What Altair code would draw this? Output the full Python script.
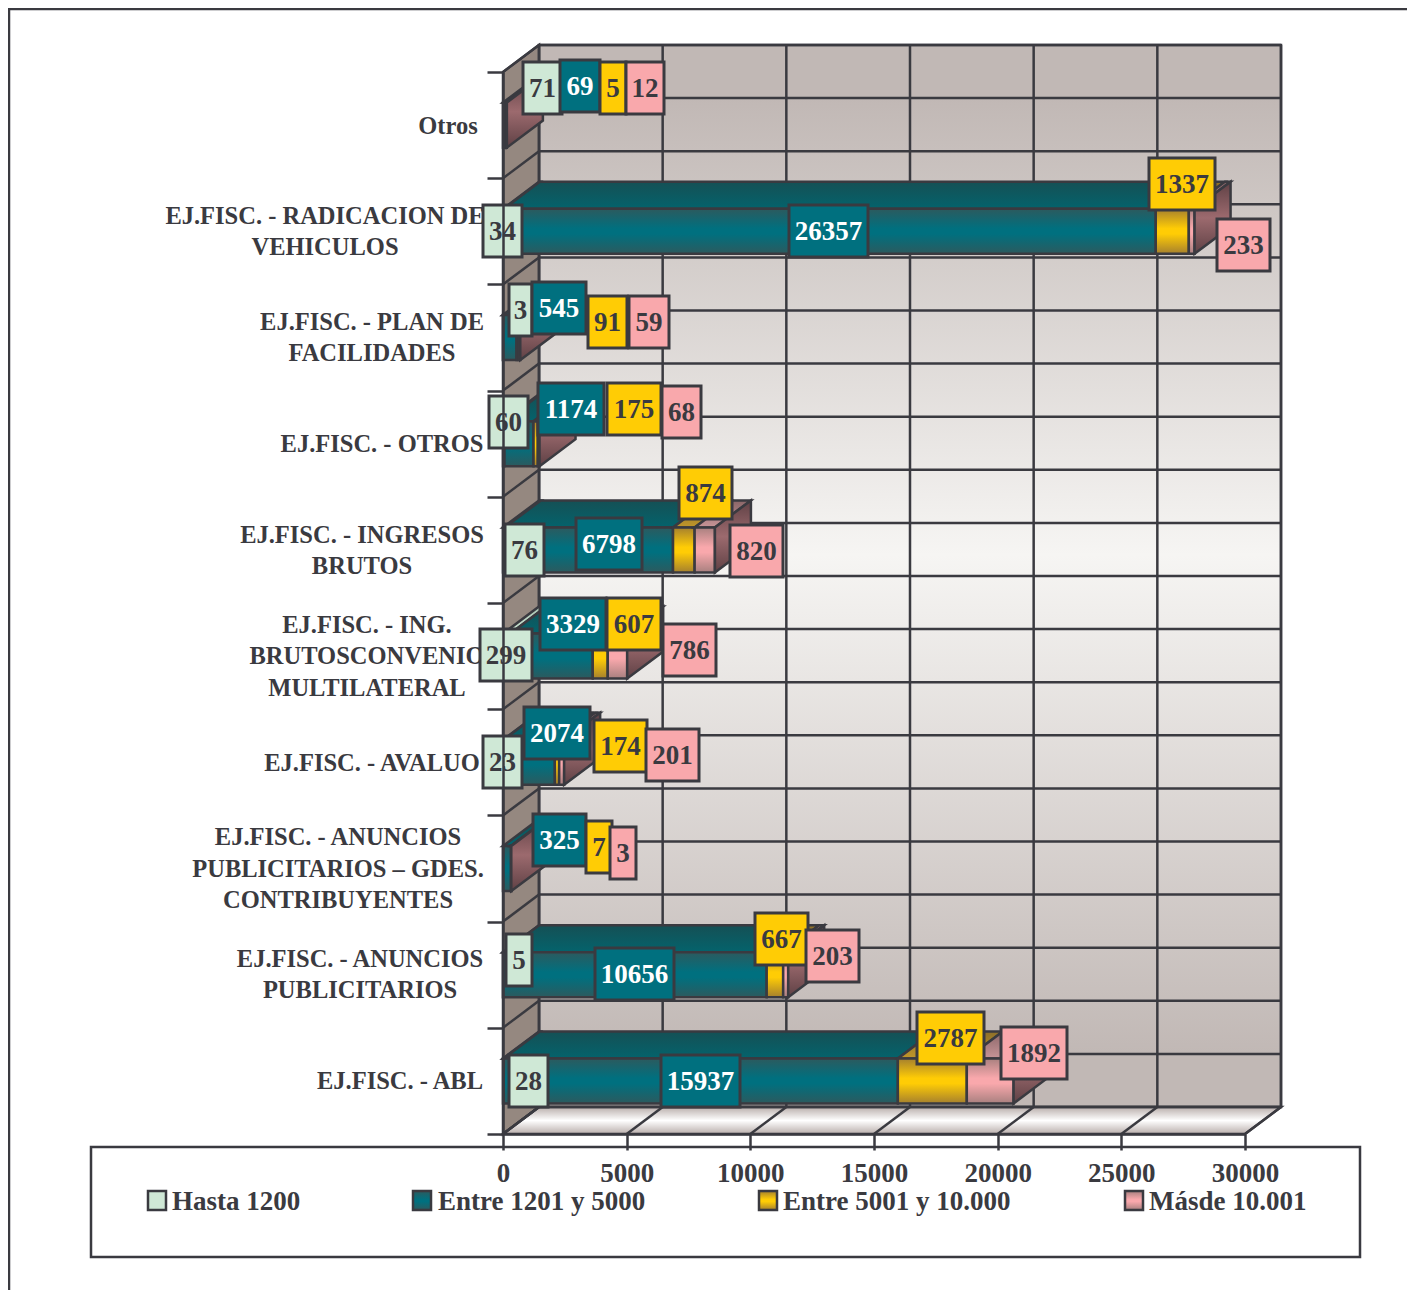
import altair as alt
import pandas as pd

# ---- chart values (bottom category first) ----
categories = ["EJ.FISC. - ABL", "EJ.FISC. - ANUNCIOS PUBLICITARIOS",
              "EJ.FISC. - ANUNCIOS PUBLICITARIOS – GDES. CONTRIBUYENTES",
              "EJ.FISC. - AVALUO", "EJ.FISC. - ING. BRUTOSCONVENIO MULTILATERAL",
              "EJ.FISC. - INGRESOS BRUTOS", "EJ.FISC. - OTROS",
              "EJ.FISC. - PLAN DE FACILIDADES", "EJ.FISC. - RADICACION DE VEHICULOS", "Otros"]
hasta = [28, 5, None, 23, 299, 76, 60, 3, 34, 71]
entre1 = [15937, 10656, 325, 2074, 3329, 6798, 1174, 545, 26357, 69]
entre5 = [2787, 667, 7, 174, 607, 874, 175, 91, 1337, 5]
mas10 = [1892, 203, 3, 201, 786, 820, 68, 59, 233, 12]
series_names = ["Hasta 1200", "Entre 1201 y 5000", "Entre 5001 y 10.000", "Másde 10.001"]
x_ticks = [0, 5000, 10000, 15000, 20000, 25000, 30000]

# ---- layout: hand-placed label boxes in page pixels (left, right, top) ----
box_h = 52
boxes_hasta = [(509, 548, 1055), (506, 532, 934), None, (483, 522, 736), (480, 532, 629),
               (505, 544, 524), (489, 528, 396), (509, 532, 284), (483, 522, 205), (523, 562, 62)]
boxes_entre1 = [(661, 740, 1055), (595, 674, 948), (533, 586, 814), (524, 590, 707), (540, 606, 598),
                (576, 642, 518), (538, 604, 383), (532, 586, 282), (789, 868, 205), (560, 600, 60)]
boxes_entre5 = [(917, 984, 1012), (755, 808, 913), (586, 612, 821), (594, 647, 720), (607, 661, 598),
                (679, 732, 467), (607, 661, 383), (588, 627, 296), (1149, 1215, 158), (600, 626, 62)]
boxes_mas10 = [(1001, 1067, 1027), (806, 859, 930), (610, 636, 827), (646, 699, 729), (663, 716, 624),
               (730, 783, 525), (662, 701, 386), (629, 669, 296), (1217, 1270, 219), (626, 664, 62)]
# category text lines: text, centre x, centre y (page pixels)
cat_lines = [("Otros", 448, 127),
             ("EJ.FISC. - RADICACION DE", 325, 217), ("VEHICULOS", 325, 248),
             ("EJ.FISC. - PLAN DE", 372, 323), ("FACILIDADES", 372, 354),
             ("EJ.FISC. - OTROS", 382, 445),
             ("EJ.FISC. - INGRESOS", 362, 536), ("BRUTOS", 362, 567),
             ("EJ.FISC. - ING.", 367, 626), ("BRUTOSCONVENIO", 367, 657), ("MULTILATERAL", 367, 689),
             ("EJ.FISC. - AVALUO", 372, 764),
             ("EJ.FISC. - ANUNCIOS", 338, 838), ("PUBLICITARIOS – GDES.", 338, 870), ("CONTRIBUYENTES", 338, 901),
             ("EJ.FISC. - ANUNCIOS", 360, 960), ("PUBLICITARIOS", 360, 991),
             ("EJ.FISC. - ABL", 400, 1082)]
legend_swatch_x = [148, 413, 759, 1125]
legend_text_x = [172, 438, 783, 1149]

# ---- geometry helpers: page pixels <-> data units ----
X0, X1, Y0, Y1 = 503, 1245, 1134, 72
dx_val = 36 / (X1 - X0) * 30000
dy_val = 27 / (Y0 - Y1) * 10
def ux(px): return (px - X0) / (X1 - X0) * 30000
def uy(py): return (Y0 - py) / (Y0 - Y1) * 10
BAR_H = 45 / (Y0 - Y1) * 10

INK = "#3a3a40"
FONT = "Liberation Serif"
LW = 2.5
xs = alt.Scale(domain=[0, 30000], range=[0, X1 - X0], nice=False, zero=False)
ys = alt.Scale(domain=[0, 10], range=[Y0 - Y1, 0], nice=False, zero=False)
XA = alt.Axis(values=x_ticks, format="d", tickSize=16, tickWidth=LW, tickColor=INK, domainColor=INK, domainWidth=LW,
              labelFont=FONT, labelFontSize=27, labelFontWeight="bold", labelColor=INK, labelPadding=10,
              labelFlush=False, labelOverlap=False, grid=False, zindex=1)
YA = alt.Axis(values=list(range(11)), labels=False, tickSize=16, tickWidth=LW, tickColor=INK, domainColor=INK,
              domainWidth=LW, grid=False, zindex=1)
NOX = dict(scale=xs, axis=XA, title=None)
NOY = dict(scale=ys, axis=YA, title=None)

def grad(stops):
    return alt.Gradient(gradient="linear", x1=0, y1=0, x2=0, y2=1,
                        stops=[alt.GradientStop(offset=o, color=c) for o, c in stops])
def band(edge, mid):
    return grad([(0, edge), (0.44, mid), (0.56, mid), (1, edge)])

front = [band("#cfe8d6", "#cfe8d6"), band("#2c5a5e", "#00707f"), band("#a5802e", "#ffcc05"), band("#a8807f", "#f9a8ac")]
top_f = [grad([(0, "#a9c4b2"), (1, "#cfe8d6")]), grad([(0, "#155055"), (1, "#04636c")]),
         grad([(0, "#8d6f2a"), (1, "#c0962a")]), grad([(0, "#8a6668"), (1, "#c79497")])]
side_f = grad([(0, "#5f4145"), (0.5, "#9c6a6e"), (1, "#5f4145")])
box_col = ["#cfe8d6", "#00707f", "#ffcc05", "#f9a8ac"]
txt_col = [INK, "#ffffff", INK, INK]
all_vals = [hasta, entre1, entre5, mas10]
all_boxes = [boxes_hasta, boxes_entre1, boxes_entre5, boxes_mas10]

def rect_layer(df, **mk):
    return alt.Chart(df).mark_rect(**mk).encode(
        x=alt.X("x:Q", **NOX), x2="x2:Q", y=alt.Y("y:Q", **NOY), y2="y2:Q")
def rule_layer(df, **mk):
    return alt.Chart(df).mark_rule(stroke=INK, strokeWidth=LW, **mk).encode(
        x=alt.X("x:Q", **NOX), x2="x2:Q", y=alt.Y("y:Q", **NOY), y2="y2:Q")
def hface(rows, **mk):  # y key, x..x2 span
    return alt.Chart(pd.DataFrame(rows)).mark_area(orient="horizontal", line=False, stroke=INK, strokeWidth=LW, **mk).encode(
        y=alt.Y("y:Q", **NOY), x=alt.X("x:Q", **NOX), x2="x2:Q", detail="id:N")
def vface(rows, **mk):  # x key, y..y2 span
    return alt.Chart(pd.DataFrame(rows)).mark_area(orient="vertical", line=False, stroke=INK, strokeWidth=LW, **mk).encode(
        x=alt.X("x:Q", **NOX), y=alt.Y("y:Q", **NOY), y2="y2:Q", detail="id:N")

layers = []

# frame
frame = pd.DataFrame([
    dict(x=ux(8), x2=ux(1416), y=uy(9), y2=uy(9)),
    dict(x=ux(9), x2=ux(9), y=uy(8), y2=uy(1299))])
layers.append(rule_layer(frame))

# legend box
layers.append(rect_layer(pd.DataFrame([dict(x=ux(91), x2=ux(1360), y=uy(1147), y2=uy(1257))]),
                         fill="#ffffff", stroke=INK, strokeWidth=LW))
# legend entries
for i, name in enumerate(series_names):
    layers.append(rect_layer(pd.DataFrame([dict(x=ux(legend_swatch_x[i]), x2=ux(legend_swatch_x[i] + 18),
                                                y=uy(1191), y2=uy(1210))]),
                             fill=front[i], stroke=INK, strokeWidth=LW))
layers.append(alt.Chart(pd.DataFrame([dict(x=ux(legend_text_x[i]), y=uy(1202), t=n) for i, n in enumerate(series_names)]))
              .mark_text(font=FONT, fontSize=27, fontWeight="bold", color=INK, align="left", baseline="middle")
              .encode(x=alt.X("x:Q", **NOX), y=alt.Y("y:Q", **NOY), text="t:N"))

# walls
layers.append(rect_layer(pd.DataFrame([dict(x=dx_val, x2=30000 + dx_val, y=dy_val, y2=10 + dy_val)]),
                         fill=grad([(0, "#c1b8b5"), (0.05, "#c1b8b5"), (0.48, "#f6f5f3"), (0.95, "#c1b8b5"), (1, "#c1b8b5")]),
                         stroke=INK, strokeWidth=LW))
layers.append(vface([dict(id="w", x=0, y=0, y2=10), dict(id="w", x=dx_val, y=dy_val, y2=10 + dy_val)], fill="#958880"))
layers.append(hface([dict(id="f", y=0, x=0, x2=30000), dict(id="f", y=dy_val, x=dx_val, x2=30000 + dx_val)],
                    fill=grad([(0, "#b9aeab"), (0.5, "#ffffff"), (1, "#b9aeab")])))

# grid: back-wall verticals, back-wall horizontals, floor and side diagonals
grid = [dict(x=t + dx_val, x2=t + dx_val, y=dy_val, y2=10 + dy_val) for t in x_ticks]
grid += [dict(x=dx_val, x2=30000 + dx_val, y=k / 2 + dy_val, y2=k / 2 + dy_val) for k in range(21)]
grid += [dict(x=t, x2=t + dx_val, y=0, y2=dy_val) for t in x_ticks]
grid += [dict(x=0, x2=dx_val, y=k, y2=k + dy_val) for k in range(11)]
layers.append(rule_layer(pd.DataFrame(grid)))

# bars: front rectangles, top faces, end faces
for c in range(10):
    left = 0.0
    yc = c + 0.5
    yb, yt = yc - BAR_H / 2, yc + BAR_H / 2
    for s in range(4):
        v = all_vals[s][c]
        if v is None:
            continue
        right = left + v
        layers.append(hface([dict(id="t", y=yt, x=left, x2=right),
                             dict(id="t", y=yt + dy_val, x=left + dx_val, x2=right + dx_val)], fill=top_f[s]))
        layers.append(rect_layer(pd.DataFrame([dict(x=left, x2=right, y=yb, y2=yt)]),
                                 fill=front[s], stroke=INK, strokeWidth=LW))
        left = right
    layers.append(vface([dict(id="s", x=left, y=yb, y2=yt),
                         dict(id="s", x=left + dx_val, y=yb + dy_val, y2=yt + dy_val)], fill=side_f))

# category texts
layers.append(alt.Chart(pd.DataFrame([dict(x=ux(a), y=uy(b), t=t) for t, a, b in cat_lines]))
              .mark_text(font=FONT, fontSize=24.5, fontWeight="bold", color=INK, align="center", baseline="middle")
              .encode(x=alt.X("x:Q", **NOX), y=alt.Y("y:Q", **NOY), text="t:N"))

# value label boxes and their numbers
for s in range(4):
    rows = []
    for c in range(10):
        b, v = all_boxes[s][c], all_vals[s][c]
        if b is None or v is None:
            continue
        rows.append(dict(x=ux(b[0]), x2=ux(b[1]), y=uy(b[2]), y2=uy(b[2] + box_h),
                         cx=ux((b[0] + b[1]) / 2), cy=uy(b[2] + box_h / 2 + 0.5), t=str(v)))
    df = pd.DataFrame(rows)
    layers.append(rect_layer(df, fill=box_col[s], stroke=INK, strokeWidth=3))
    layers.append(alt.Chart(df).mark_text(font=FONT, fontSize=27, fontWeight="bold", color=txt_col[s],
                                          align="center", baseline="middle")
                  .encode(x=alt.X("cx:Q", **NOX), y=alt.Y("cy:Q", **NOY), text="t:N"))

chart = (alt.layer(*layers)
         .properties(width=X1 - X0, height=Y0 - Y1, background="#ffffff",
                     autosize=alt.AutoSizeParams(type="none"),
                     padding={"left": X0 - 8, "top": Y1 - 8, "right": 162, "bottom": 156})
         .configure_view(stroke=None))
chart.save("out.html", embed_options={"renderer": "svg", "actions": False})
